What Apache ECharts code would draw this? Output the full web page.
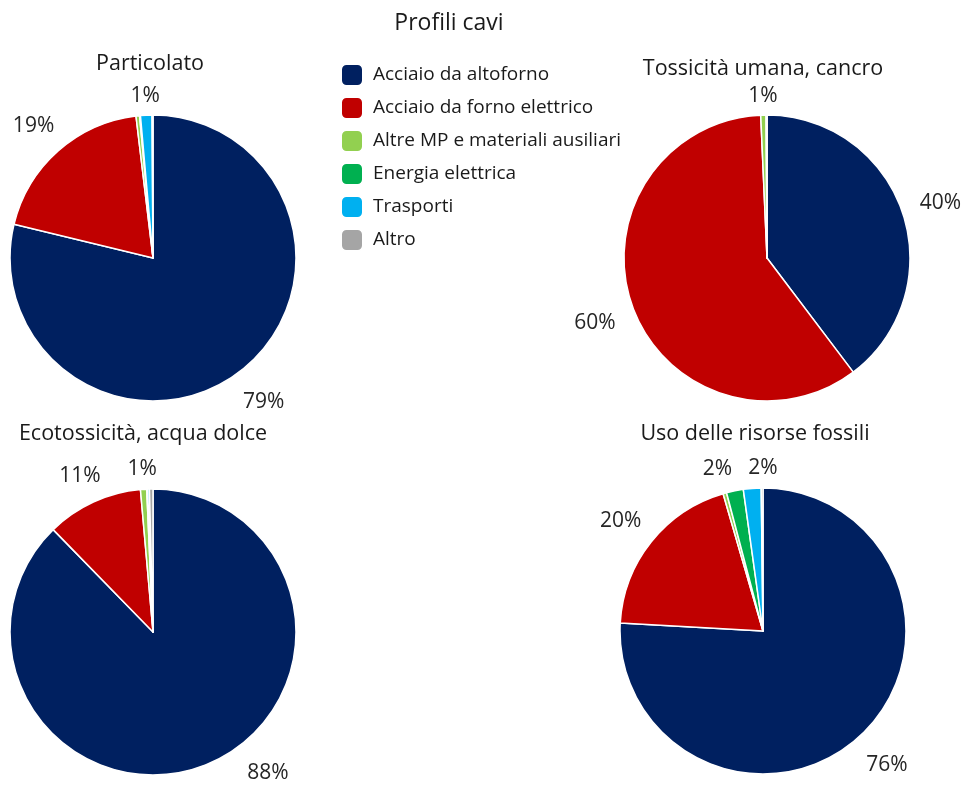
<!DOCTYPE html>
<html>
<head>
<meta charset="utf-8">
<script src="https://cdn.jsdelivr.net/npm/echarts@6/dist/echarts.min.js"></script>
<style>html,body{margin:0;padding:0;background:#fff}#c{width:961px;height:785px}</style>
</head>
<body>
<div id="c"></div>
<script>
const categories = ["Acciaio da altoforno","Acciaio da forno elettrico","Altre MP e materiali ausiliari","Energia elettrica","Trasporti","Altro"];
const colors = ["#002060","#C00000","#92D050","#00B050","#00B0F0","#A5A5A5"];
const mainTitle = "Profili cavi";
const pieTitles = ["Particolato","Tossicità umana, cancro","Ecotossicità, acqua dolce","Uso delle risorse fossili"];
const particolato = [78.8, 19.3, 0.4, 0.1, 1.3, 0.1];
const tossicita = [39.7, 59.6, 0.6, 0.05, 0.05, 0.0];
const ecotossicita = [87.7, 10.9, 0.7, 0.1, 0.2, 0.4];
const fossili = [75.9, 19.6, 0.4, 1.9, 2.0, 0.2];

const font = "'Open Sans', 'Noto Sans', sans-serif";
const pies = [particolato, tossicita, ecotossicita, fossili];
const centers = [[153,258],[767,258],[153,632],[763,631]];
const titlePos = [[145,48],[758,53],[138,418],[750,418]];
const GAP = 10, PW = 7, PH = 1, YOFF = 3, H = 785, YMAX = H - 15, SEP = 16;

const chart = echarts.init(document.getElementById('c'));
const titles = [{text: mainTitle, left: 444, top: 7, textAlign: 'center',
  textStyle:{fontFamily: font, fontSize: 23, fontWeight: 'normal', color:'#1a1a1a'}}];
pieTitles.forEach((t,i)=>titles.push({text:t, left: titlePos[i][0], top: titlePos[i][1], textAlign:'center',
  textStyle:{fontFamily: font, fontSize: 21.5, fontWeight:'normal', color:'#1a1a1a'}}));

const pctLabel = p => { const r = Math.round(p); return r >= 1 ? r + '%' : ''; };

function idealPos(data, idx, w, h) {
  const lay = data.getItemLayout(idx);
  const mid = (lay.startAngle + lay.endAngle) / 2;
  let dx = Math.cos(mid), dy = Math.sin(mid);
  const dist = (ax, ay) => lay.r + GAP + Math.abs(ax) * (w / 2 + PW) + Math.abs(ay) * (h / 2 + PH);
  let d = dist(dx, dy);
  if (lay.cy + dy * d > YMAX) {
    const sx = dx >= 0 ? 1 : -1;
    for (let k = 0; k < 8; k++) {
      dy = Math.min(1, (YMAX - lay.cy) / d);
      dx = sx * Math.sqrt(1 - dy * dy);
      d = dist(dx, dy);
    }
  }
  return {x: lay.cx + dx * d, y: lay.cy + dy * d};
}

function layoutLabel(params){
  const w = params.labelRect.width, h = params.labelRect.height;
  if (!(w > 1)) return {};
  const data = chart.getModel().getSeriesByIndex(params.seriesIndex).getData();
  const total = data.getSum('value');
  const own = idealPos(data, params.dataIndex, w, h);
  let x = own.x;
  [params.dataIndex - 1, params.dataIndex + 1].forEach(n => {
    if (n < 0 || n >= data.count()) return;
    if (!pctLabel(data.get('value', n) / total * 100)) return;
    const o = idealPos(data, n, w, h);
    const gapX = Math.abs(own.x - o.x);
    if (gapX < w + SEP && Math.abs(own.y - o.y) < h) {
      const shift = (w + SEP - gapX) / 2;
      x += own.x >= o.x ? shift : -shift;
    }
  });
  return {x, y: own.y + YOFF, align: 'center', verticalAlign: 'middle'};
}

const series = pies.map((vals,i)=>({
  type:'pie', radius: 143, center: centers[i], startAngle: 90, clockwise: true,
  avoidLabelOverlap: false,
  itemStyle:{borderColor:'#fff', borderWidth:1.5},
  label:{show:true, position:'outside', fontFamily: font, fontSize: 21, color:'#262626',
    formatter: p => pctLabel(p.percent)},
  labelLine:{show:false, length: 8, length2: 0},
  labelLayout: layoutLabel,
  emphasis:{disabled:true},
  data: categories.map((c,j)=>({name:c, value: vals[j]}))
}));

chart.setOption({
  animation:false,
  color: colors,
  title: titles,
  legend:{orient:'vertical', left: 335, top: 58, itemWidth: 22, itemHeight: 22, itemGap: 9,
    icon:'roundRect', data: categories,
    textStyle:{fontFamily: font, fontSize: 19, color:'#1a1a1a', lineHeight: 22, padding:[0,0,0,5]}},
  series
});
</script>
</body>
</html>
